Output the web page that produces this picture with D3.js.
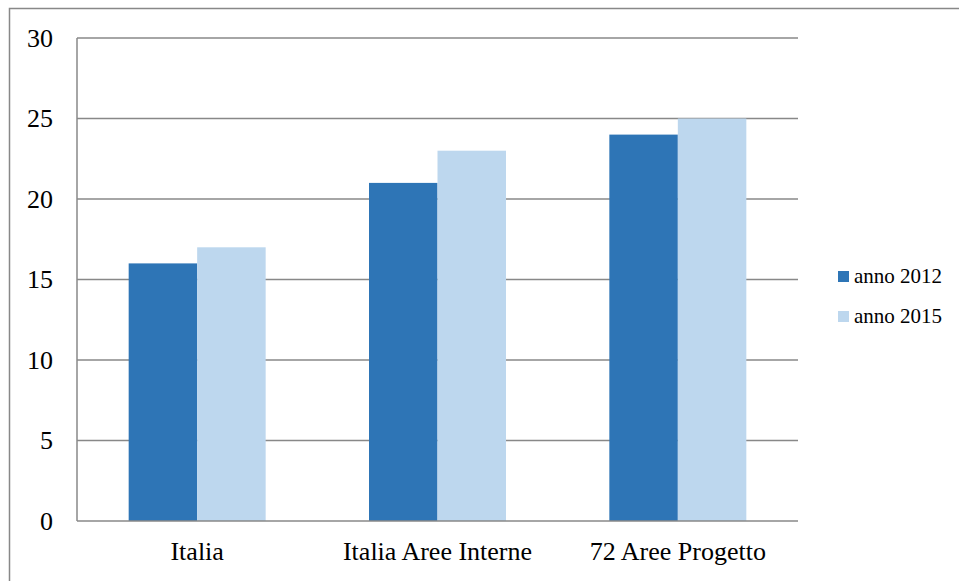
<!DOCTYPE html>
<html><head><meta charset="utf-8">
<script src="https://cdn.jsdelivr.net/npm/d3@7"></script>
<style>body{margin:0;background:#fff}svg{display:block}</style>
</head><body>
<script>
const categories = ["Italia", "Italia Aree Interne", "72 Aree Progetto"];
const seriesNames = ["anno 2012", "anno 2015"];
const values2012 = [16, 21, 24];
const values2015 = [17, 23, 25];
const yTicks = [0, 5, 10, 15, 20, 25, 30];
const colors = ["#2E75B6", "#BDD7EE"];

const FONT = "Liberation Serif";
const svg = d3.select("body").append("svg").attr("width", 959).attr("height", 581);

svg.append("rect").attr("x", 9.5).attr("y", 8.5).attr("width", 1000).attr("height", 1000)
  .attr("fill", "none").attr("stroke", "#888").attr("stroke-width", 1.5);

const pLeft = 77, pRight = 798, pTop = 38, pBottom = 521;
const x = d3.scaleBand().domain(categories).range([pLeft, pRight]).paddingInner(0.43).paddingOuter(0.215);
const xs = d3.scaleBand().domain(seriesNames).range([0, x.bandwidth()]);
const y = d3.scaleLinear().domain([0, 30]).range([pBottom, pTop]);

svg.append("g").selectAll("line").data(yTicks.filter(t => t > 0)).join("line")
  .attr("x1", pLeft).attr("x2", pRight).attr("y1", d => y(d)).attr("y2", d => y(d))
  .attr("stroke", "#888").attr("stroke-width", 1.5);

[values2012, values2015].forEach((vals, si) => {
  svg.append("g").selectAll("rect").data(categories).join("rect")
    .attr("x", d => x(d) + xs(seriesNames[si]))
    .attr("width", xs.bandwidth())
    .attr("y", (d, i) => y(vals[i]))
    .attr("height", (d, i) => y(0) - y(vals[i]))
    .attr("fill", colors[si]);
});

svg.append("line").attr("x1", pLeft).attr("x2", pLeft).attr("y1", pTop).attr("y2", pBottom)
  .attr("stroke", "#888").attr("stroke-width", 1.5);
svg.append("line").attr("x1", pLeft).attr("x2", pRight).attr("y1", pBottom).attr("y2", pBottom)
  .attr("stroke", "#888").attr("stroke-width", 1.5);

const gy = svg.append("g").attr("transform", "translate(53,0)")
  .call(d3.axisLeft(y).tickValues(yTicks).tickSize(0).tickPadding(0));
gy.select(".domain").remove();
gy.selectAll("text").attr("font-family", FONT).attr("font-size", 26).attr("fill", "#000");

const gx = svg.append("g").attr("transform", "translate(0,542)")
  .call(d3.axisBottom(x).tickSize(0).tickPadding(0));
gx.select(".domain").remove();
gx.selectAll("text").attr("font-family", FONT).attr("font-size", 26).attr("fill", "#000");

seriesNames.forEach((n, i) => {
  const yy = 271 + i * 40;
  svg.append("rect").attr("x", 838).attr("y", yy).attr("width", 11).attr("height", 11).attr("fill", colors[i]);
  svg.append("text").attr("x", 854).attr("y", yy + 12).attr("font-family", FONT).attr("font-size", 21)
    .attr("fill", "#000").text(n);
});
</script>
</body></html>
